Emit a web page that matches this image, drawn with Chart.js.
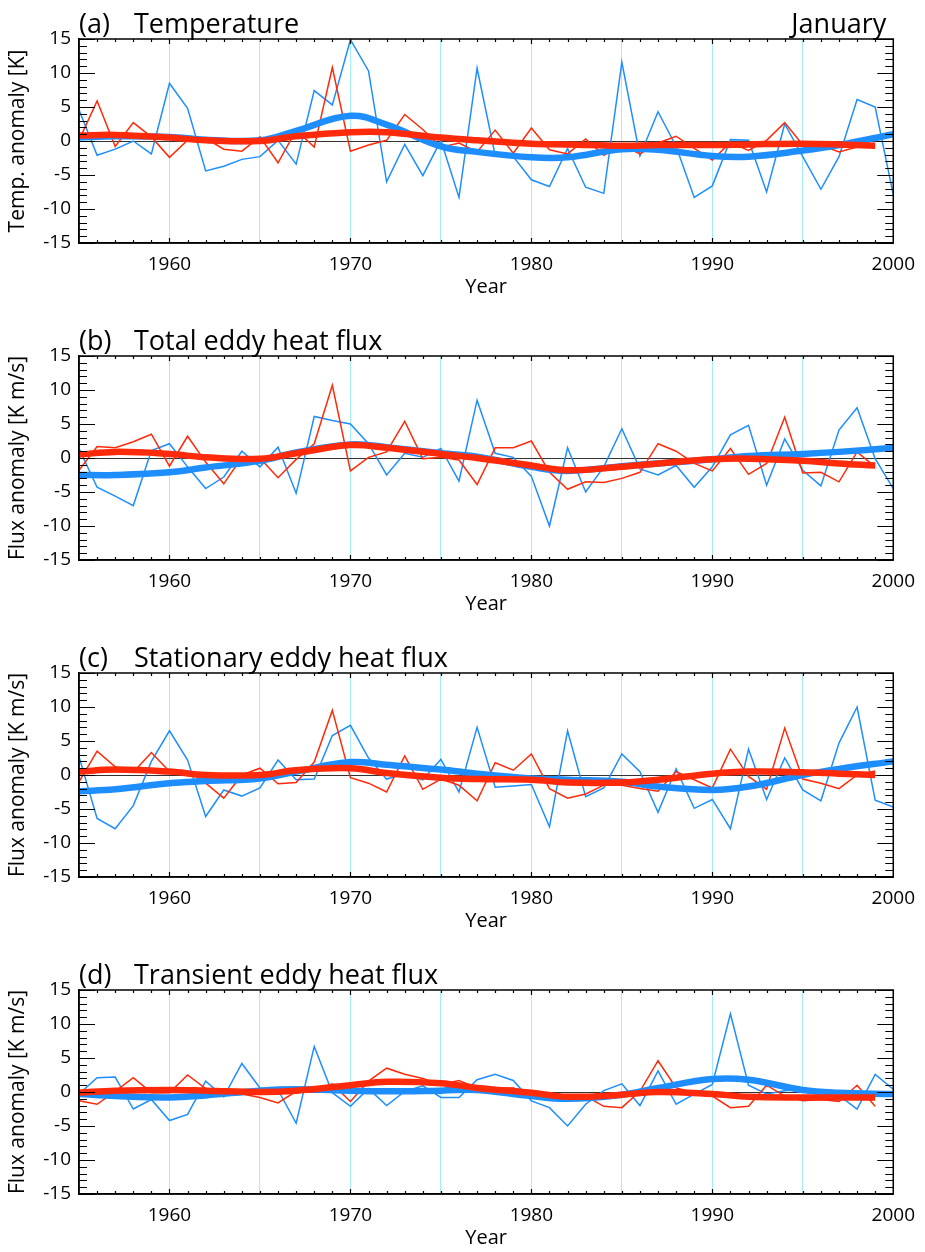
<!DOCTYPE html>
<html>
<head>
<meta charset="utf-8">
<script src="https://cdn.jsdelivr.net/npm/chart.js@4.4.1/dist/chart.umd.min.js"></script>
<style>
  html, body { margin: 0; padding: 0; background: #fff; overflow: hidden; }
  .panel { position: absolute; left: 0; width: 925px; height: 317px; }
</style>
</head>
<body>
<div class="panel" style="top:0px"><canvas id="chartA" width="925" height="317"></canvas></div>
<div class="panel" style="top:317px"><canvas id="chartB" width="925" height="317"></canvas></div>
<div class="panel" style="top:634px"><canvas id="chartC" width="925" height="317"></canvas></div>
<div class="panel" style="top:951px"><canvas id="chartD" width="925" height="317"></canvas></div>
<script>
// years of the annual series
const years = [];
for (let y = 1955; y <= 2000; y++) years.push(y);
const redYears = years.slice(0, 45); // red series stops in 1999

const smoothYears = [1955, 1957, 1960, 1962, 1965, 1967, 1970, 1972, 1975, 1977, 1980, 1982, 1985, 1987, 1990, 1992, 1995, 1997, 2000];
const smoothRedYears = [1955, 1957, 1960, 1962, 1965, 1967, 1970, 1972, 1975, 1977, 1980, 1982, 1985, 1987, 1990, 1992, 1995, 1997, 1999];

// (a) temperature
const tempBlue = [4.6, -2.1, -1.2, 0, -1.9, 8.5, 4.8, -4.4, -3.7, -2.7, -2.3, 0.1, -3.4, 7.4, 5.3, 14.9, 10.3, -6.0, -0.5, -5.1, 0.1, -8.3, 10.7, -2.1, -2.3, -5.7, -6.7, -1.1, -6.8, -7.7, 11.6, -2.2, 4.3, -0.8, -8.3, -6.6, 0.2, 0.1, -7.5, 2.5, -2.3, -7.1, -2.3, 6.1, 5.0, -7.9];
const tempRed = [0.1, 5.9, -0.8, 2.7, 0.6, -2.4, 0.1, 0.4, -1.2, -1.5, 0.6, -3.2, 1.6, -0.9, 10.8, -1.5, -0.6, 0.1, 3.9, 1.7, -0.9, -0.3, -1.6, 1.6, -1.8, 1.9, -1.3, -1.9, 0.3, -2.1, -0.6, -1.9, -0.3, 0.7, -1.1, -2.8, -0.2, -1.4, 0.1, 2.7, -0.6, -0.6, -1.6, -0.9, -0.8];
const tempBlueSmooth = [0.5, 0.7, 0.6, 0.2, 0.1, 1.5, 3.7, 2.4, -0.8, -1.6, -2.4, -2.4, -1.2, -1.3, -2.2, -2.3, -1.4, -0.6, 1.0];
const tempRedSmooth = [0.8, 0.9, 0.5, 0.1, 0.0, 0.7, 1.3, 1.3, 0.5, 0.1, -0.4, -0.5, -0.7, -0.6, -0.6, -0.5, -0.4, -0.5, -0.7];

// (b) total eddy heat flux
const totalBlue = [1.4, -4.3, -5.6, -7.0, 1.1, 2.1, -1.3, -4.5, -2.8, 1.0, -1.3, 1.6, -5.2, 6.1, 5.5, 5.0, 2.1, -2.5, 0.7, 0.1, 1.4, -3.4, 8.5, 0.7, 0.1, -2.7, -10.0, 1.5, -5.0, -1.3, 4.3, -1.6, -2.5, -1.1, -4.3, -1.3, 3.4, 4.8, -4.0, 2.8, -1.8, -4.1, 4.1, 7.4, -0.1, -4.5];
const totalRed = [-1.8, 1.7, 1.5, 2.4, 3.5, -1.2, 3.2, -0.6, -3.8, 0.1, 0, -2.9, -0.2, 2.1, 10.7, -1.9, 0.1, 0.9, 5.4, -0.1, 0.1, -0.3, -3.9, 1.5, 1.5, 2.5, -2.1, -4.6, -3.5, -3.6, -3.0, -2.1, 2.1, 1.0, -0.8, -1.9, 1.4, -2.4, -0.8, 6.0, -2.2, -2.1, -3.5, 0.9, -1.3];
const totalBlueSmooth = [-2.5, -2.5, -2.1, -1.4, -0.4, 0.8, 2.0, 1.6, 0.7, 0.2, -1.3, -1.9, -1.2, -0.8, -0.2, 0.3, 0.6, 0.9, 1.5];
const totalRedSmooth = [0.5, 0.9, 0.6, 0.1, -0.1, 0.7, 1.9, 1.5, 0.6, 0.0, -1.1, -1.8, -1.3, -0.8, -0.2, -0.1, -0.4, -0.8, -1.1];

// (c) stationary eddy heat flux
const statBlue = [2.7, -6.4, -7.9, -4.5, 2.0, 6.5, 2.2, -6.1, -2.2, -3.1, -1.9, 2.2, -0.7, -0.6, 5.8, 7.3, 2.5, -0.6, 0.2, -0.7, 2.3, -2.5, 7.0, -1.8, -1.6, -1.4, -7.6, 6.5, -3.2, -1.9, 3.1, 0.5, -5.5, 0.9, -4.9, -3.6, -7.9, 3.8, -3.6, 2.5, -2.2, -3.8, 4.7, 10.0, -3.7, -4.7];
const statRed = [-1.0, 3.5, 1.2, 0.4, 3.3, 0.5, 0.5, -1.2, -3.4, 0, 1.0, -1.3, -1.1, 1.9, 9.5, -0.4, -1.2, -2.5, 2.8, -2.1, -0.6, -1.5, -3.8, 1.8, 0.7, 3.1, -2.0, -3.4, -2.8, -1.5, -1.5, -2.0, -2.4, 0.5, -0.7, -1.9, 3.8, -0.2, -2.1, 6.9, -0.6, -1.2, -2.0, 0, 0.6];
const statBlueSmooth = [-2.4, -2.1, -1.2, -0.9, -0.5, 0.5, 1.9, 1.5, 0.8, 0.2, -0.5, -0.7, -1.0, -1.7, -2.2, -1.7, 0.0, 0.9, 2.0];
const statRedSmooth = [0.5, 0.8, 0.5, 0.0, 0.0, 0.7, 1.0, 0.3, -0.4, -0.6, -0.7, -1.1, -1.1, -0.7, 0.2, 0.5, 0.4, 0.2, 0.0];

// (d) transient eddy heat flux
const transBlue = [-0.3, 2.1, 2.2, -2.5, -1.1, -4.2, -3.3, 1.6, -0.7, 4.2, 0.6, 0.3, -4.6, 6.7, -0.1, -2.1, 0.5, -2.0, 0.1, 0.9, -0.8, -0.8, 1.8, 2.6, 1.7, -1.3, -2.3, -5.0, -1.8, 0.2, 1.2, -2.0, 3.1, -1.8, -0.3, 1.1, 11.5, 1.0, -0.3, 0.2, 0.4, -0.3, -0.5, -2.5, 2.6, 0.4];
const transRed = [-1.3, -1.8, 0.1, 2.1, -0.1, -0.1, 2.5, 0.5, -0.1, -0.3, -0.8, -1.6, 0.1, 0.3, 1.2, -1.4, 1.6, 3.5, 2.6, 2.0, 1.1, 1.7, 0.6, 0.6, 0.6, -0.3, -0.6, -0.8, -0.6, -2.1, -2.3, 0.1, 4.6, 0.6, -0.1, -0.6, -2.3, -2.1, 1.0, -0.6, -1.3, -1.1, -1.4, 1.0, -2.1];
const transBlueSmooth = [-0.3, -0.6, -0.8, -0.5, 0.2, 0.4, 0.2, 0.1, 0.2, 0.3, -0.6, -1.0, -0.4, 0.6, 1.9, 1.8, 0.3, -0.1, -0.3];
const transRedSmooth = [-0.1, 0.2, 0.3, 0.2, 0.0, 0.2, 1.0, 1.5, 1.3, 0.6, -0.1, -0.7, -0.4, 0.0, -0.3, -0.7, -0.8, -0.8, -0.8];

const BLUE = '#1e8eff';
const RED = '#ff2a0a';
const CYAN = '#a4eff7';
const FONT = '"Open Sans", "DejaVu Sans", sans-serif';

function pts(xs, ys) {
    return ys.map((v, i) => ({ x: xs[i], y: v }));
}

// frame, inward tick marks and panel headings
const panelDeco = {
    id: 'panelDeco',
    afterDraw(chart, args, opts) {
        const { ctx, chartArea: a, scales: { x, y } } = chart;
        ctx.save();
        ctx.strokeStyle = '#000';
        ctx.lineWidth = 1.5;
        ctx.strokeRect(a.left, a.top, a.right - a.left, a.bottom - a.top);
        ctx.lineWidth = 1.2;
        ctx.beginPath();
        for (let v = -15; v <= 15; v++) {
            const py = Math.round(y.getPixelForValue(v)) + 0.5;
            const len = v % 5 === 0 ? 16 : 8;
            ctx.moveTo(a.left, py); ctx.lineTo(a.left + len, py);
            ctx.moveTo(a.right, py); ctx.lineTo(a.right - len, py);
        }
        for (let yr = 1956; yr < 2000; yr++) {
            const px = Math.round(x.getPixelForValue(yr)) + 0.5;
            const len = yr % 10 === 0 ? 5 : 3;
            ctx.moveTo(px, a.bottom); ctx.lineTo(px, a.bottom - len);
            ctx.moveTo(px, a.top); ctx.lineTo(px, a.top + len);
        }
        ctx.stroke();

        ctx.fillStyle = '#000';
        ctx.font = '27px ' + FONT;
        ctx.textBaseline = 'alphabetic';
        ctx.textAlign = 'left';
        ctx.fillText(opts.letter, a.left, a.top - 6);
        ctx.fillText(opts.title, a.left + 55, a.top - 6);
        if (opts.month) {
            ctx.textAlign = 'right';
            ctx.fillText(opts.month, a.right - 7, a.top - 6);
        }
        ctx.restore();
    }
};

function makePanel(id, letter, title, yTitle, blue, red, blueSmooth, redSmooth, month) {
    new Chart(document.getElementById(id), {
        type: 'line',
        data: {
            datasets: [
                { data: pts(smoothRedYears, redSmooth), borderColor: RED, borderWidth: 6.5, tension: 0.4, order: 0 },
                { data: pts(smoothYears, blueSmooth), borderColor: BLUE, borderWidth: 6.5, tension: 0.4, order: 1 },
                { data: pts(redYears, red), borderColor: RED, borderWidth: 1.5, tension: 0, order: 2 },
                { data: pts(years, blue), borderColor: BLUE, borderWidth: 1.5, tension: 0, order: 3 }
            ]
        },
        options: {
            responsive: false,
            animation: false,
            devicePixelRatio: 1,
            elements: { point: { radius: 0 }, line: { borderCapStyle: 'butt', borderJoinStyle: 'miter' } },
            layout: { padding: { top: 39, right: 30, left: 0, bottom: 0 } },
            plugins: {
                legend: { display: false },
                tooltip: { enabled: false },
                panelDeco: { letter: letter, title: title, month: month }
            },
            scales: {
                x: {
                    type: 'linear',
                    min: 1955,
                    max: 2000,
                    afterFit: s => { s.height = 74; },
                    ticks: {
                        stepSize: 5,
                        autoSkip: false,
                        maxRotation: 0,
                        padding: 10,
                        color: '#000',
                        font: { family: FONT, size: 19 },
                        callback: v => (v % 10 === 0 ? String(v) : '')
                    },
                    grid: {
                        drawTicks: false,
                        lineWidth: 1,
                        color: c => (c.tick && c.tick.value > 1955 && c.tick.value < 2000 ? CYAN : 'rgba(0,0,0,0)')
                    },
                    border: { color: '#000', width: 1.5 },
                    title: { display: true, text: 'Year', color: '#000', font: { family: FONT, size: 20 }, padding: { top: 0, bottom: 18 } }
                },
                y: {
                    min: -15,
                    max: 15,
                    afterFit: s => { s.width = 79; },
                    ticks: {
                        stepSize: 5,
                        padding: 8,
                        color: '#000',
                        font: { family: FONT, size: 19 }
                    },
                    grid: {
                        drawTicks: false,
                        lineWidth: 1,
                        color: c => (c.tick && c.tick.value === 0 ? '#333' : 'rgba(0,0,0,0)')
                    },
                    border: { color: '#000', width: 1.5 },
                    title: { display: true, text: yTitle, color: '#000', font: { family: FONT, size: 21 }, padding: { top: 5, bottom: 0 } }
                }
            }
        },
        plugins: [panelDeco]
    });
}

makePanel('chartA', '(a)', 'Temperature', 'Temp. anomaly [K]', tempBlue, tempRed, tempBlueSmooth, tempRedSmooth, 'January');
makePanel('chartB', '(b)', 'Total eddy heat flux', 'Flux anomaly [K m/s]', totalBlue, totalRed, totalBlueSmooth, totalRedSmooth);
makePanel('chartC', '(c)', 'Stationary eddy heat flux', 'Flux anomaly [K m/s]', statBlue, statRed, statBlueSmooth, statRedSmooth);
makePanel('chartD', '(d)', 'Transient eddy heat flux', 'Flux anomaly [K m/s]', transBlue, transRed, transBlueSmooth, transRedSmooth);
</script>
</body>
</html>
